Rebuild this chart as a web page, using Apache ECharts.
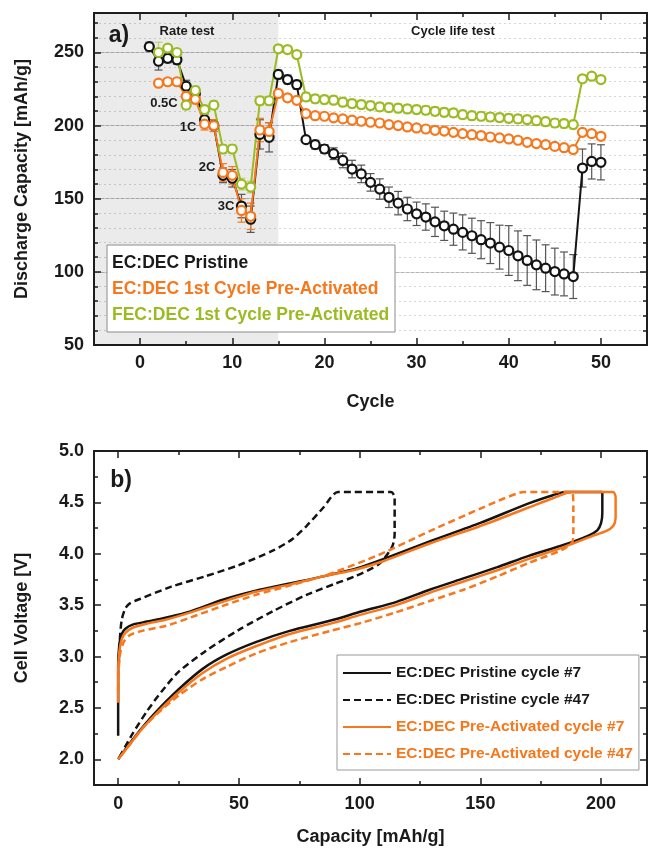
<!DOCTYPE html>
<html>
<head>
<meta charset="utf-8">
<script src="https://cdn.jsdelivr.net/npm/echarts@6/dist/echarts.min.js"></script>
<style>
  html, body { margin: 0; padding: 0; background: #fff; }
  #chart { width: 649px; height: 852px; }
</style>
</head>
<body>
<div id="chart"></div>
<script>
// ---------- panel a : discharge capacity vs cycle ----------
var cycles = [1, 2, 3, 4, 5, 6, 7, 8, 9, 10, 11, 12, 13, 14, 15, 16, 17, 18, 19, 20,
  21, 22, 23, 24, 25, 26, 27, 28, 29, 30, 31, 32, 33, 34, 35, 36, 37, 38, 39, 40,
  41, 42, 43, 44, 45, 46, 47, 48, 49, 50];

var pristine = [254, 244, 246, 245, 227, 222, 204, 200, 166, 164, 145, 136, 194, 192, 235, 231.5, 228, 190.4, 187, 184,
  180.8, 176.2, 170.3, 167, 161.2, 156.6, 151, 147, 143, 139.7, 137.5, 134.2, 131.5, 129.2, 127, 124.7, 122, 119.7, 116.9, 114.6,
  111, 107.8, 104.8, 102.5, 100.2, 98.6, 96.8, 171, 175.5, 174.9];
var pristineErr = [3, 6, 3, 3, 4, 3, 4, 4, 5, 6, 8, 9, 10, 10, 3, 3, 3, 2, 3, 3,
  4, 5, 6, 6, 6, 7, 7, 8, 8, 8, 9, 10, 10, 11, 12, 12, 13, 14, 15, 17,
  17, 17, 17, 16, 16, 15, 15, 13, 12, 12];

var ecPre = [null, 229, 230, 230, 220, 218, 201, 200, 168, 166, 142, 138, 197, 196, 222, 219, 217.3, 208.2, 206.8, 206.4,
  205.3, 204.6, 203.7, 203, 202.3, 201.8, 200.7, 200, 199.1, 198.4, 197.7, 196.8, 196.3, 195.4, 194.5, 193.8, 193.2, 192.2, 191.6, 190.9,
  190, 188.6, 187.7, 187, 185.8, 184.9, 183.6, 195.4, 194.5, 192.7];
var ecPreErr = [null, 2, 2, 2, 3, 3, 4, 4, 6, 6, 8, 9, 8, 6, 2, 2, 2, 1.5, 1.5, 1.5,
  1.5, 1.5, 1.5, 1.5, 1.5, 1.5, 1.5, 1.5, 1.5, 1.5, 1.5, 1.5, 1.5, 1.5, 1.5, 1.5, 1.5, 1.5, 1.5, 1.5,
  1.5, 1.5, 1.5, 1.5, 1.5, 1.5, 1.5, 2, 2, 2];

var fecPre = [null, 250, 253, 250, 214, 224, 211, 214, 184, 184, 160, 158, 217, 217, 252.5, 252, 248.6, 219.6, 218.3, 217.8,
  217.4, 216, 215.1, 214.4, 213.7, 212.8, 212.3, 211.9, 211.4, 211, 210.5, 209.8, 209.1, 208.7, 207.5, 206.8, 206.4, 205.9, 205.5, 205,
  204.6, 204.1, 203.4, 202.7, 201.8, 201.4, 200.7, 232, 233.8, 231.5];
var fecPreErr = [null, 7, 2, 2, 3, 3, 3, 3, 3, 3, 4, 4, 3, 3, 2, 2, 2, 3, 3, 3,
  3, 3, 3, 3, 3, 3, 3, 3, 3, 3, 3, 3, 3, 3, 3, 3, 3, 3, 3, 3,
  3, 3, 3, 3, 3, 3, 3, 2, 2, 2];

var cycleTicks = [0, 10, 20, 30, 40, 50];
var cycleMinorTicks = [5, 15, 25, 35, 45];
var rateLabels = ['0.5C', '1C', '2C', '3C'];

// ---------- panel b : voltage profiles ----------
var pristine7Cap = [0, 0, 0.5, 1.5, 3, 6, 12, 20, 30, 43, 57, 71, 85, 99, 110, 129, 150, 170, 180, 185, 200.5,
  200.5, 200, 198.5, 195, 185, 170, 157, 143, 129, 115, 101, 88, 71, 57, 45, 35, 25, 16, 10, 5, 0];
var pristine7V = [2.23, 2.9, 3.12, 3.22, 3.27, 3.31, 3.34, 3.38, 3.44, 3.55, 3.64, 3.71, 3.78, 3.86, 3.95, 4.12, 4.30, 4.49, 4.57, 4.6, 4.6,
  4.4, 4.3, 4.23, 4.18, 4.09, 3.98, 3.87, 3.76, 3.65, 3.53, 3.44, 3.35, 3.25, 3.14, 3.02, 2.88, 2.68, 2.47, 2.31, 2.16, 2.0];

var pristine47Cap = [0.3, 0.8, 1.5, 3, 5, 9, 22, 36, 50, 64, 72, 78, 85, 91, 113, 114.5, 114.5, 113.5,
  108, 98, 90, 78, 64, 50, 36, 25, 18, 12, 6, 0];
var pristine47V = [2.95, 3.2, 3.36, 3.47, 3.52, 3.56, 3.68, 3.78, 3.89, 4.03, 4.14, 4.27, 4.45, 4.6, 4.6, 4.55, 4.2, 4.07,
  3.9, 3.78, 3.71, 3.6, 3.44, 3.26, 3.05, 2.85, 2.66, 2.47, 2.25, 2.0];

var preAct7Cap = [0, 0, 0.5, 1.5, 3, 6, 12, 20, 30, 43, 57, 71, 85, 99, 110, 129, 150, 170, 180, 188, 205,
  206, 206, 205, 202, 196, 185, 170, 157, 143, 129, 115, 101, 88, 71, 57, 45, 35, 25, 16, 10, 5, 0];
var preAct7V = [2.55, 2.85, 3.05, 3.17, 3.23, 3.28, 3.32, 3.36, 3.43, 3.53, 3.63, 3.70, 3.78, 3.85, 3.93, 4.10, 4.27, 4.45, 4.54, 4.6, 4.6,
  4.55, 4.35, 4.27, 4.22, 4.17, 4.07, 3.95, 3.84, 3.73, 3.62, 3.5, 3.41, 3.32, 3.22, 3.1, 2.98, 2.84, 2.65, 2.45, 2.3, 2.15, 2.0];

var preAct47Cap = [0, 0.3, 1, 2.5, 5, 10, 20, 30, 43, 57, 71, 87, 108, 129, 150, 160, 168, 188,
  188.5, 188.5, 188, 184, 170, 157, 143, 129, 115, 101, 88, 71, 57, 45, 35, 25, 16, 10, 5, 0];
var preAct47V = [2.68, 2.9, 3.05, 3.15, 3.21, 3.25, 3.3, 3.38, 3.49, 3.6, 3.69, 3.8, 3.99, 4.22, 4.44, 4.54, 4.6, 4.6,
  4.45, 4.2, 4.11, 4.04, 3.91, 3.78, 3.65, 3.54, 3.43, 3.33, 3.25, 3.14, 3.03, 2.9, 2.78, 2.62, 2.44, 2.3, 2.15, 2.0];

var capTicks = [0, 50, 100, 150, 200];
var capMinorTicks = [25, 75, 125, 175];
var voltTicks = [2.0, 2.5, 3.0, 3.5, 4.0, 4.5, 5.0];
var voltMinorTicks = [2.25, 2.75, 3.25, 3.75, 4.25, 4.75];

// ---------- styling ----------
var FONT = '"Liberation Sans", Arial, sans-serif';
var AXIS = '#1e1e1e';
var BLACK = '#141414';
var ORANGE = '#f7771c';
var GREEN = '#9bbb22';

var chart = echarts.init(document.getElementById('chart'));

function pairs(xs, ys) {
  var out = [];
  for (var i = 0; i < xs.length; i++) out.push([xs[i], ys[i]]);
  return out;
}

// one axis that only draws ticks (and optionally line / labels)
function tickAxis(grid, pos, min, max, vals, len, extra) {
  var ax = {
    type: 'value', gridIndex: grid, position: pos, min: min, max: max,
    axisLine: { show: false, onZero: false },
    axisTick: { show: true, inside: true, length: len, customValues: vals, lineStyle: { color: AXIS, width: 1.5 } },
    axisLabel: { show: false },
    splitLine: { show: false }
  };
  return Object.assign(ax, extra || {});
}

var boxLine = { show: true, onZero: false, lineStyle: { color: AXIS, width: 2 } };
var labelStyle = { fontFamily: FONT, fontSize: 18, fontWeight: 'bold', color: '#1a1a1a' };
var nameStyle = { fontFamily: FONT, fontSize: 18, fontWeight: 'bold', color: '#1a1a1a' };

var xAxes = [
  // panel a
  tickAxis(0, 'bottom', -5, 55, cycleTicks, 7, {
    axisLine: boxLine,
    axisLabel: Object.assign({ show: true, margin: 9, customValues: cycleTicks }, labelStyle),
    name: 'Cycle', nameLocation: 'middle', nameGap: 48, nameTextStyle: nameStyle
  }),
  tickAxis(0, 'bottom', -5, 55, cycleMinorTicks, 4),
  tickAxis(0, 'top', -5, 55, cycleTicks, 7, { axisLine: boxLine }),
  tickAxis(0, 'top', -5, 55, cycleMinorTicks, 4),
  // panel b
  tickAxis(1, 'bottom', -10, 219, capTicks, 7, {
    axisLine: boxLine,
    axisLabel: Object.assign({ show: true, margin: 10, customValues: capTicks }, labelStyle),
    name: 'Capacity [mAh/g]', nameLocation: 'middle', nameGap: 43, nameTextStyle: nameStyle
  }),
  tickAxis(1, 'bottom', -10, 219, capMinorTicks, 4),
  tickAxis(1, 'top', -10, 219, capTicks, 7, { axisLine: boxLine }),
  tickAxis(1, 'top', -10, 219, capMinorTicks, 4)
];

var yAxes = [
  // panel a (min 50 is a multiple of both intervals)
  tickAxis(0, 'left', 50, 277, undefined, 7, {
    interval: 50,
    axisLine: boxLine,
    axisLabel: Object.assign({ show: true, margin: 10, showMaxLabel: false }, labelStyle),
    splitLine: { show: true, lineStyle: { color: '#b4b4b4', width: 1 } },
    name: 'Discharge Capacity [mAh/g]', nameLocation: 'middle', nameGap: 63, nameTextStyle: nameStyle
  }),
  tickAxis(0, 'left', 50, 277, undefined, 4, {
    interval: 10,
    splitLine: { show: true, lineStyle: { color: '#d6d6d6', width: 1, type: [2, 3] } }
  }),
  tickAxis(0, 'right', 50, 277, undefined, 7, { interval: 50, axisLine: boxLine }),
  tickAxis(0, 'right', 50, 277, undefined, 4, { interval: 10 }),
  // panel b
  tickAxis(1, 'left', 1.75, 5.0, voltTicks, 7, {
    axisLine: boxLine,
    axisLabel: Object.assign({
      show: true, margin: 10, customValues: voltTicks,
      formatter: function (v) { return v.toFixed(1); }
    }, labelStyle),
    name: 'Cell Voltage [V]', nameLocation: 'middle', nameGap: 63, nameTextStyle: nameStyle
  }),
  tickAxis(1, 'left', 1.75, 5.0, voltMinorTicks, 4),
  tickAxis(1, 'right', 1.75, 5.0, voltTicks, 7, { axisLine: boxLine }),
  tickAxis(1, 'right', 1.75, 5.0, voltMinorTicks, 4)
];

function errorBars(vals, errs, color) {
  var data = [];
  for (var i = 0; i < cycles.length; i++) {
    if (vals[i] == null || !errs[i]) continue;
    data.push([cycles[i], vals[i] - errs[i], vals[i] + errs[i]]);
  }
  return {
    type: 'custom', xAxisIndex: 0, yAxisIndex: 0, z: 1, silent: true,
    encode: { x: 0, y: [1, 2] },
    data: data,
    renderItem: function (params, api) {
      var x = api.value(0);
      var lo = api.coord([x, api.value(1)]);
      var hi = api.coord([x, api.value(2)]);
      var w = 4;
      var st = { stroke: color, lineWidth: 1.2 };
      return {
        type: 'group',
        children: [
          { type: 'line', shape: { x1: lo[0], y1: lo[1], x2: hi[0], y2: hi[1] }, style: st },
          { type: 'line', shape: { x1: lo[0] - w, y1: lo[1], x2: lo[0] + w, y2: lo[1] }, style: st },
          { type: 'line', shape: { x1: hi[0] - w, y1: hi[1], x2: hi[0] + w, y2: hi[1] }, style: st }
        ]
      };
    }
  };
}

function cycleSeries(name, vals, color) {
  return {
    name: name, type: 'line', xAxisIndex: 0, yAxisIndex: 0, z: 3,
    data: pairs(cycles, vals),
    symbol: 'circle', symbolSize: 9,
    itemStyle: { color: '#fff', borderColor: color, borderWidth: 2.2 },
    lineStyle: { color: color, width: 2 },
    connectNulls: false, animation: false
  };
}

function profileSeries(name, caps, volts, color, dashed) {
  return {
    name: name, type: 'line', xAxisIndex: 4, yAxisIndex: 4,
    data: pairs(caps, volts),
    symbol: 'none', smooth: 0.25, clip: true,
    itemStyle: { color: color },
    lineStyle: { color: color, width: 2.5, type: dashed ? [7, 4] : 'solid' },
    animation: false
  };
}

var blackLine = cycleSeries('EC:DEC Pristine', pristine, BLACK);
blackLine.markArea = {
  silent: true,
  itemStyle: { color: 'rgba(0,0,0,0.08)' },
  data: [[{ xAxis: -5 }, { xAxis: 15 }]]
};

var series = [
  errorBars(pristine, pristineErr, '#555'),
  errorBars(ecPre, ecPreErr, ORANGE),
  errorBars(fecPre, fecPreErr, 'rgba(155,187,34,0.55)'),
  blackLine,
  cycleSeries('EC:DEC 1st Cycle Pre-Activated', ecPre, ORANGE),
  cycleSeries('FEC:DEC 1st Cycle Pre-Activated', fecPre, GREEN),
  profileSeries('EC:DEC Pristine cycle #7', pristine7Cap, pristine7V, BLACK, false),
  profileSeries('EC:DEC Pristine cycle #47', pristine47Cap, pristine47V, BLACK, true),
  profileSeries('EC:DEC Pre-Activated cycle #7', preAct7Cap, preAct7V, ORANGE, false),
  profileSeries('EC:DEC Pre-Activated cycle #47', preAct47Cap, preAct47V, ORANGE, true)
];

function txt(x, y, text, size, color, align) {
  return {
    type: 'text', x: x, y: y, z: 120,
    style: {
      text: text, fontFamily: FONT, fontSize: size, fontWeight: 'bold',
      fill: color || '#1a1a1a', align: align || 'center', verticalAlign: 'middle'
    }
  };
}

var option = {
  backgroundColor: '#fff',
  animation: false,
  grid: [
    { left: 94, top: 13, width: 553, height: 332 },
    { left: 94, top: 451, width: 553, height: 334 }
  ],
  xAxis: xAxes,
  yAxis: yAxes,
  legend: {
    orient: 'vertical', left: 337, top: 655,
    itemWidth: 48, itemHeight: 14, itemGap: 11,
    padding: [10, 6, 8, 5],
    borderColor: '#999', borderWidth: 1, backgroundColor: '#fff',
    itemStyle: { opacity: 0 },
    textStyle: { fontFamily: FONT, fontSize: 15.5, fontWeight: 'bold' },
    data: [
      { name: 'EC:DEC Pristine cycle #7', textStyle: { color: '#1a1a1a' } },
      { name: 'EC:DEC Pristine cycle #47', textStyle: { color: '#1a1a1a' } },
      { name: 'EC:DEC Pre-Activated cycle #7', textStyle: { color: ORANGE } },
      { name: 'EC:DEC Pre-Activated cycle #47', textStyle: { color: ORANGE } }
    ]
  },
  graphic: [
    txt(119, 36, 'a)', 23),
    txt(187, 31, 'Rate test', 13),
    txt(453, 31, 'Cycle life test', 13),
    txt(164, 103, rateLabels[0], 13),
    txt(188, 127, rateLabels[1], 13),
    txt(207, 167, rateLabels[2], 13),
    txt(226, 206, rateLabels[3], 13),
    {
      type: 'rect', z: 110,
      shape: { x: 107, y: 245, width: 288, height: 87 },
      style: { fill: '#fff', stroke: '#8c8c8c', lineWidth: 1 }
    },
    txt(112, 263, 'EC:DEC Pristine', 17.5, '#1a1a1a', 'left'),
    txt(112, 289, 'EC:DEC 1st Cycle Pre-Activated', 17.5, ORANGE, 'left'),
    txt(112, 315, 'FEC:DEC 1st Cycle Pre-Activated', 17.5, GREEN, 'left'),
    txt(121, 481, 'b)', 23)
  ],
  series: series
};

chart.setOption(option);
</script>
</body>
</html>
